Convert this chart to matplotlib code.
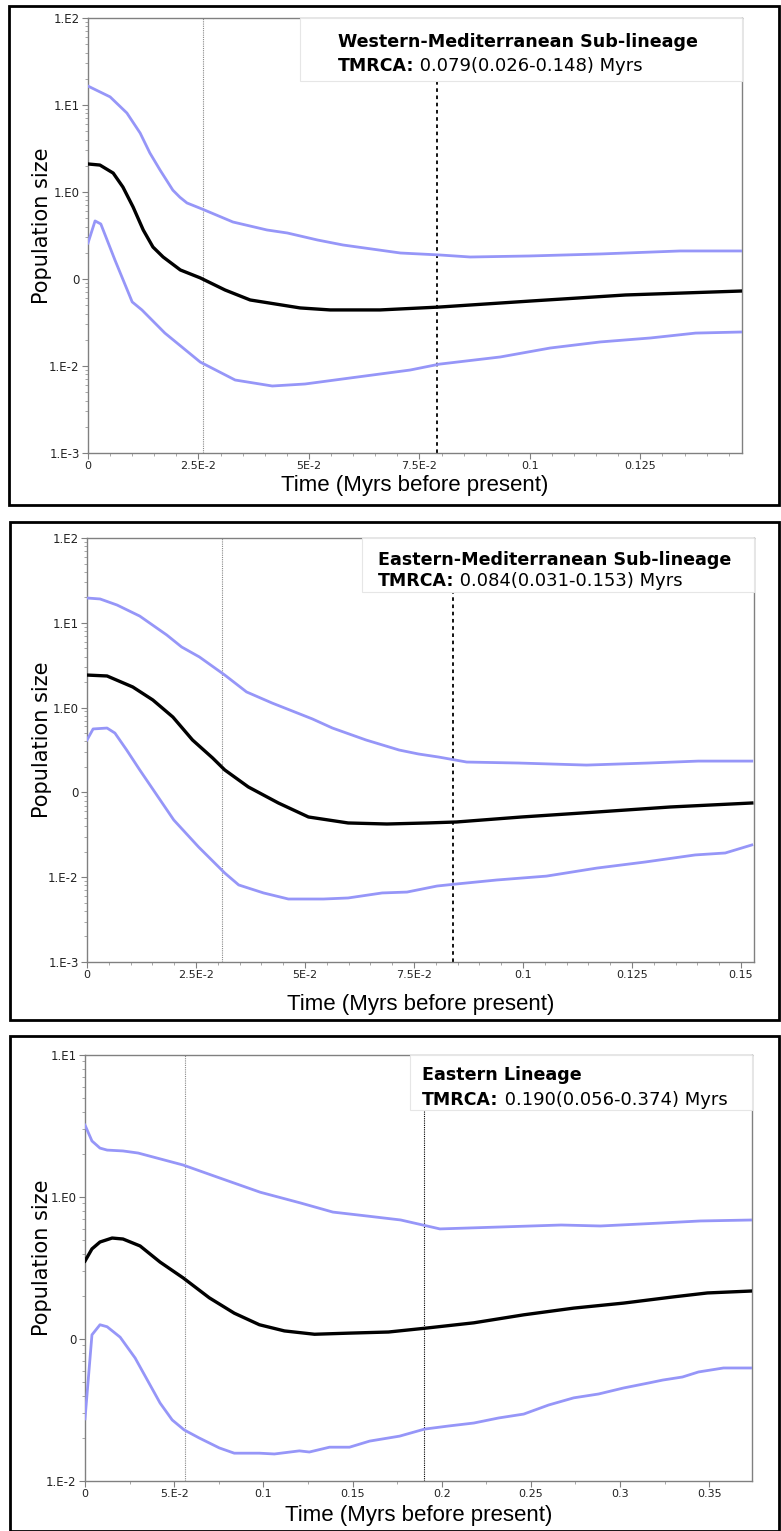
import matplotlib
matplotlib.use("Agg")
import matplotlib.pyplot as plt
from matplotlib.patches import Rectangle
from matplotlib.ticker import FixedLocator, LogLocator, NullFormatter

W, H = 781, 1531

# ---- Western-Mediterranean sub-lineage ----
west_t_upper = [0, 0.005, 0.0088, 0.0118, 0.014, 0.0163, 0.0192, 0.0208, 0.0224, 0.0258, 0.0328,
                0.0405, 0.0451, 0.0519, 0.0577, 0.0707, 0.0795, 0.0865, 0.100, 0.116, 0.134, 0.148]
west_upper = [16.5, 12.4, 8.09, 4.76, 2.81, 1.79, 1.05, 0.87, 0.748, 0.638, 0.452,
              0.366, 0.338, 0.281, 0.246, 0.199, 0.189, 0.179, 0.184, 0.194, 0.210, 0.210]
west_t_median = [0, 0.0027, 0.0057, 0.0079, 0.0102, 0.0125, 0.0147, 0.017, 0.0209, 0.0254,
                 0.0310, 0.0367, 0.048, 0.0548, 0.0661, 0.0795, 0.1001, 0.1216, 0.148]
west_median = [2.10, 2.04, 1.65, 1.14, 0.673, 0.366, 0.233, 0.179, 0.127, 0.103,
               0.0748, 0.0574, 0.0465, 0.0441, 0.0441, 0.0476, 0.0558, 0.0655, 0.0728]
west_t_lower = [0, 0.0016, 0.0029, 0.0061, 0.010, 0.0122, 0.0174, 0.0254, 0.0333, 0.0417,
                0.0491, 0.0593, 0.0729, 0.0795, 0.0933, 0.1046, 0.1159, 0.1273, 0.1375, 0.148]
west_lower = [0.259, 0.465, 0.429, 0.165, 0.0545, 0.0441, 0.0239, 0.0111, 0.0069, 0.00589,
              0.00621, 0.00728, 0.00899, 0.0105, 0.0127, 0.0161, 0.0189, 0.0210, 0.0239, 0.0246]
west_tmrca = (0.079, 0.026, 0.148)

# ---- Eastern-Mediterranean sub-lineage ----
east_t_upper = [0, 0.003, 0.0069, 0.0121, 0.0183, 0.0217, 0.0258, 0.0316, 0.0366, 0.0425,
                0.0517, 0.0563, 0.064, 0.0716, 0.076, 0.0807, 0.0871, 0.099, 0.1146, 0.1287,
                0.1402, 0.1525]
east_upper = [19.6, 19.1, 16.2, 12.0, 7.18, 5.19, 3.95, 2.42, 1.53, 1.13,
              0.735, 0.574, 0.415, 0.316, 0.284, 0.261, 0.228, 0.222, 0.210, 0.222,
              0.234, 0.234]
east_t_median = [0, 0.0046, 0.0105, 0.0151, 0.0197, 0.0242, 0.0288, 0.0316, 0.037, 0.0439,
                 0.0508, 0.0599, 0.0688, 0.078, 0.0848, 0.0997, 0.1169, 0.1338, 0.1525]
east_median = [2.42, 2.36, 1.75, 1.23, 0.774, 0.415, 0.255, 0.184, 0.116, 0.075,
               0.0513, 0.0436, 0.0424, 0.0436, 0.0448, 0.0513, 0.0587, 0.0673, 0.075]
east_t_lower = [0, 0.0014, 0.0046, 0.0064, 0.0091, 0.0121, 0.0199, 0.0256, 0.0316, 0.0348,
                0.0405, 0.0462, 0.0542, 0.0599, 0.0677, 0.0734, 0.0803, 0.0848, 0.094, 0.1054,
                0.1169, 0.128, 0.1395, 0.1464, 0.1525]
east_lower = [0.415, 0.560, 0.574, 0.501, 0.316, 0.184, 0.0473, 0.0227, 0.0112, 0.0081,
              0.00652, 0.00553, 0.00553, 0.00569, 0.00652, 0.00668, 0.00787, 0.00832, 0.00927, 0.0103,
              0.0128, 0.0151, 0.0183, 0.0193, 0.0240]
east_tmrca = (0.084, 0.031, 0.153)

# ---- Eastern lineage ----
elin_t_upper = [0, 0.0039, 0.0084, 0.0124, 0.0213, 0.0298, 0.055, 0.0742, 0.0983, 0.1208,
                0.139, 0.158, 0.177, 0.199, 0.233, 0.267, 0.289, 0.323, 0.345, 0.3747]
elin_upper = [3.21, 2.48, 2.21, 2.14, 2.11, 2.04, 1.68, 1.38, 1.08, 0.908,
              0.783, 0.735, 0.689, 0.596, 0.615, 0.635, 0.625, 0.656, 0.678, 0.689]
elin_t_median = [0, 0.0039, 0.0084, 0.0152, 0.0213, 0.0309, 0.0421, 0.0551, 0.0697, 0.0837,
                 0.0978, 0.1118, 0.1287, 0.1483, 0.1702, 0.1904, 0.218, 0.246, 0.274, 0.302,
                 0.330, 0.349, 0.3747]
elin_median = [0.354, 0.431, 0.482, 0.514, 0.506, 0.452, 0.348, 0.269, 0.195, 0.152,
               0.126, 0.114, 0.108, 0.110, 0.112, 0.119, 0.130, 0.148, 0.165, 0.179,
               0.198, 0.211, 0.218]
elin_t_lower = [0, 0.0039, 0.0084, 0.0124, 0.0197, 0.0281, 0.0421, 0.0489, 0.0556, 0.064,
                0.0753, 0.0837, 0.0978, 0.1062, 0.1202, 0.1258, 0.1371, 0.1483, 0.1596, 0.1764,
                0.1904, 0.2039, 0.218, 0.232, 0.246, 0.260, 0.274, 0.288, 0.302, 0.316,
                0.324, 0.335, 0.344, 0.358, 0.3747]
elin_lower = [0.0274, 0.107, 0.126, 0.122, 0.103, 0.0735, 0.0354, 0.0269, 0.0229, 0.0201,
              0.0171, 0.0157, 0.0157, 0.0155, 0.0163, 0.0160, 0.0173, 0.0173, 0.0191, 0.0207,
              0.0232, 0.0244, 0.0256, 0.0278, 0.0296, 0.0343, 0.0385, 0.0410, 0.0452, 0.0490,
              0.0514, 0.0540, 0.0586, 0.0625, 0.0625]
elin_tmrca = (0.190, 0.056, 0.374)

y_labels_5 = ["1.E-3", "1.E-2", "0", "1.E0", "1.E1", "1.E2"]
y_ticks_5 = [1e-3, 1e-2, 1e-1, 1e0, 1e1, 1e2]
y_labels_3 = ["1.E-2", "0", "1.E0", "1.E1"]
y_ticks_3 = [1e-2, 1e-1, 1e0, 1e1]

west_xticks = [0, 0.025, 0.05, 0.075, 0.1, 0.125]
west_xlabels = ["0", "2.5E-2", "5E-2", "7.5E-2", "0.1", "0.125"]
east_xticks = [0, 0.025, 0.05, 0.075, 0.1, 0.125, 0.15]
east_xlabels = ["0", "2.5E-2", "5E-2", "7.5E-2", "0.1", "0.125", "0.15"]
elin_xticks = [0, 0.05, 0.1, 0.15, 0.2, 0.25, 0.3, 0.35]
elin_xlabels = ["0", "5.E-2", "0.1", "0.15", "0.2", "0.25", "0.3", "0.35"]

BLUE = "#9696f8"
fig = plt.figure(figsize=(W / 100, H / 100), dpi=100)


def px_box(left, top, right, bottom):
    return [left / W, 1 - bottom / H, (right - left) / W, (bottom - top) / H]


def panel(frame, axbox, curves, tmrca, xmax, ylim, yticks, ylabels, xticks, xlabels,
          xminor, title, legbox, text_x, text_y1, text_y2, xlabel_y, median_style):
    # black frame around the panel
    fl, ft, fr, fb = frame
    fig.patches.append(Rectangle((fl / W, 1 - fb / H), (fr - fl) / W, (fb - ft) / H,
                                 transform=fig.transFigure, fill=False,
                                 edgecolor="black", linewidth=2.0))
    l, t, r, b = axbox
    ax = fig.add_axes(px_box(l, t, r, b))
    (tu, up), (tm, med), (tl, lo) = curves
    ax.plot(tu, up, color=BLUE, lw=2.0, zorder=3)
    ax.plot(tl, lo, color=BLUE, lw=2.0, zorder=3)
    ax.plot(tm, med, color="black", lw=2.4, zorder=4)
    ax.axvline(tmrca[1], color="#888888", lw=0.8, ls=(0, (1, 1)), zorder=2)
    ax.axvline(tmrca[0], color="black", lw=median_style[0], ls=median_style[1], zorder=2)
    ax.set_yscale("log")
    ax.set_xlim(0, xmax)
    ax.set_ylim(*ylim)
    ax.yaxis.set_major_locator(FixedLocator(yticks))
    ax.set_yticklabels(ylabels)
    ax.yaxis.set_minor_locator(LogLocator(base=10, subs=range(2, 10)))
    ax.yaxis.set_minor_formatter(NullFormatter())
    ax.set_xticks(xticks)
    ax.set_xticklabels(xlabels)
    ax.xaxis.set_minor_locator(FixedLocator(xminor))
    for sp in ax.spines.values():
        sp.set_color("#808080")
        sp.set_linewidth(1.0)
    ax.tick_params(which="major", length=4, width=0.8, color="#808080",
                   labelcolor="#222222", pad=2)
    ax.tick_params(axis="y", labelsize=8.5)
    ax.tick_params(axis="x", labelsize=8)
    ax.tick_params(which="minor", length=2, width=0.6, color="#999999")

    def axc(px, py):
        return (px - l) / (r - l), (b - py) / (b - t)

    bx0, by0, bx1, by1 = legbox
    x0, y0 = axc(bx0, by1)
    x1, y1 = axc(bx1, by0)
    ax.add_patch(Rectangle((x0, y0), x1 - x0, y1 - y0, transform=ax.transAxes,
                           facecolor="white", edgecolor="#e6e6e6", lw=0.8,
                           zorder=5, clip_on=False))
    tx, ty = axc(text_x, text_y1)
    ax.text(tx, ty, title, transform=ax.transAxes, fontsize=12.6,
            fontweight="bold", va="center", ha="left", zorder=6)
    tx, ty = axc(text_x, text_y2)
    bold = ax.text(tx, ty, "TMRCA:", transform=ax.transAxes, fontsize=12.5,
                   fontweight="bold", va="center", ha="left", zorder=6)
    ax.annotate(" %.3f(%.3f-%.3f) Myrs" % tmrca, xy=(1, 0.5), xycoords=bold,
                fontsize=13, va="center", ha="left", zorder=6,
                annotation_clip=False)

    fig.text(42 / W, 1 - ((t + b) / 2 - 10) / H, "Population size",
             rotation=90, fontsize=15, ha="center", va="center")
    fig.text(((l + r) / 2) / W, 1 - xlabel_y / H, "Time (Myrs before present)",
             fontsize=16, family="Liberation Sans", ha="center", va="center")
    return ax


panel((9, 6, 779, 505), (88, 18, 742, 453),
      [(west_t_upper, west_upper), (west_t_median, west_median), (west_t_lower, west_lower)],
      west_tmrca, 0.148, (1e-3, 1e2), y_ticks_5, y_labels_5, west_xticks, west_xlabels,
      [i * 0.005 for i in range(30)],
      "Western-Mediterranean Sub-lineage", (300, 18, 742, 81), 338, 42, 66, 486,
      (1.3, (0, (2, 2))))

panel((10, 522, 779, 1020), (87, 538, 754, 962),
      [(east_t_upper, east_upper), (east_t_median, east_median), (east_t_lower, east_lower)],
      east_tmrca, 0.153, (1e-3, 1e2), y_ticks_5, y_labels_5, east_xticks, east_xlabels,
      [i * 0.005 for i in range(31)],
      "Eastern-Mediterranean Sub-lineage", (362, 538, 754, 592), 378, 560, 581, 1005,
      (1.3, (0, (2, 2))))

panel((10, 1036, 779, 1531), (85, 1055, 752, 1481),
      [(elin_t_upper, elin_upper), (elin_t_median, elin_median), (elin_t_lower, elin_lower)],
      elin_tmrca, 0.374, (1e-2, 1e1), y_ticks_3, y_labels_3, elin_xticks, elin_xlabels,
      [i * 0.025 for i in range(15)],
      "Eastern Lineage", (410, 1055, 752, 1110), 422, 1075, 1100, 1515,
      (0.8, (0, (1, 1))))

fig.savefig("out.png", dpi=100)
